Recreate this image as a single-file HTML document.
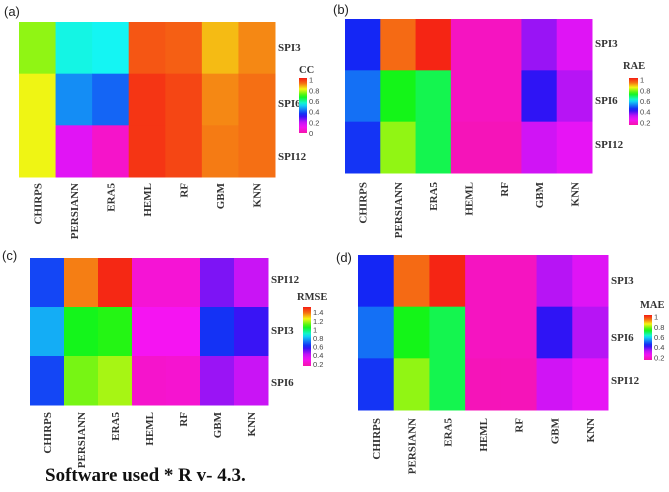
<!DOCTYPE html>
<html><head><meta charset="utf-8"><style>
html,body{margin:0;padding:0;background:#fff;width:669px;height:492px;overflow:hidden}
svg{display:block}
.pl{font-family:"Liberation Sans",sans-serif;font-size:13px;fill:#222}
.rl{font-family:"Liberation Serif",serif;font-weight:bold;font-size:11px;fill:#333}
.cl{font-family:"Liberation Serif",serif;font-weight:bold;font-size:11px;fill:#333}
.tk{font-family:"Liberation Sans",sans-serif;font-size:7.5px;fill:#444}
.lt{font-family:"Liberation Serif",serif;font-weight:bold;font-size:10.5px;fill:#333}
</style></head><body>
<svg id="fig" width="669" height="492" viewBox="0 0 669 492">
<text x="4" y="16" class="pl">(a)</text>
<text x="333" y="14" class="pl">(b)</text>
<text x="2" y="260" class="pl">(c)</text>
<text x="336" y="262" class="pl">(d)</text>
<text x="45" y="481" style="font-family:'Liberation Serif',serif;font-weight:bold;font-size:19px;fill:#111">Software used * R v- 4.3.</text>
</svg>
<script>
const models = ["CHIRPS","PERSIANN","ERA5","HEML","RF","GBM","KNN"];
const rowsA = ["SPI3","SPI6","SPI12"];
const rowsB = ["SPI3","SPI6","SPI12"];
const rowsC = ["SPI12","SPI3","SPI6"];
const rowsD = ["SPI3","SPI6","SPI12"];
const valuesA = [[0.76,0.55,0.54,0.96,0.95,0.87,0.91],[0.82,0.45,0.41,1.0,0.98,0.91,0.93],[0.82,0.15,0.05,1.0,0.98,0.92,0.93]];
const valuesB = [[0.45,0.95,1.02,0.18,0.18,0.35,0.28],[0.51,0.73,0.7,0.18,0.18,0.42,0.33],[0.46,0.8,0.7,0.17,0.17,0.3,0.27]];
const valuesC = [[0.655,1.37,1.5,0.24,0.24,0.49,0.4],[0.79,1.05,1.07,0.3,0.3,0.63,0.56],[0.655,1.14,1.18,0.22,0.23,0.46,0.4]];
const valuesD = [[0.45,0.95,1.02,0.18,0.18,0.33,0.28],[0.51,0.73,0.7,0.18,0.18,0.42,0.33],[0.46,0.8,0.7,0.17,0.17,0.3,0.27]];
const ticksA = [0,0.2,0.4,0.6,0.8,1];
const ticksB = [0.2,0.4,0.6,0.8,1];
const ticksC = [0.2,0.4,0.6,0.8,1,1.2,1.4];
const ticksD = [0.2,0.4,0.6,0.8,1];

const NS="http://www.w3.org/2000/svg";
const svg=document.getElementById('fig');
function mk(tag,attrs,parent){const e=document.createElementNS(NS,tag);for(const k in attrs)e.setAttribute(k,attrs[k]);(parent||svg).appendChild(e);return e;}
const hs=[[0,320],[0.2,285],[0.35,232],[0.5,190],[0.65,125],[0.8,60],[0.9,25],[1,2]];
function col(t){t=Math.max(0,Math.min(1,t));let h=hs[hs.length-1][1];
 for(let i=0;i<hs.length-1;i++){if(t>=hs[i][0]&&t<=hs[i+1][0]){const f=(t-hs[i][0])/(hs[i+1][0]-hs[i][0]);h=hs[i][1]+f*(hs[i+1][1]-hs[i][1]);break;}}
 return "hsl("+h.toFixed(1)+",92%,52%)";}
let gid=0;
function panel(p){
 const g=mk('g',{});
 
 
 const cw=(p.x1-p.x0)/models.length, ch=(p.y1-p.y0)/p.rows.length;
 const tt=v=>(v-p.dmin)/(p.dmax-p.dmin);
 p.vals.forEach((row,ri)=>row.forEach((v,ci)=>{
  const r=mk('rect',{x:(p.x0+ci*cw).toFixed(2),y:(p.y0+ri*ch).toFixed(2),width:(cw+0.5).toFixed(2),height:(ch+0.5).toFixed(2),fill:col(tt(v))},g);
  
  
 }));
 p.rows.forEach((n,ri)=>{const t=mk('text',{x:p.x1+3,y:p.ry[ri],class:'rl'},g);t.textContent=n;
  
  });
 models.forEach((n,ci)=>{const cx=p.x0+(ci+0.5)*cw+4, cy=p.ly;
  const t=mk('text',{x:cx,y:cy,class:'cl','text-anchor':'end',transform:'rotate(-90 '+cx+' '+cy+')'},g);t.textContent=n;
  
  });
 const id='gr'+(gid++);
 const lg=mk('linearGradient',{id:id,x1:0,y1:1,x2:0,y2:0},g);
 for(let i=0;i<=20;i++){const t=i/20;mk('stop',{offset:t,'stop-color':col(t)},lg);}
 const bar=mk('rect',{x:p.bx,y:p.by0,width:p.bw,height:p.by1-p.by0,fill:'url(#'+id+')'},g);
 
 
 const lt=mk('text',{x:p.tx,y:p.ty,class:'lt'},g);lt.textContent=p.title;
 
 
 p.ticks.forEach(v=>{const y=p.by1-tt(v)*(p.by1-p.by0);
  const t=mk('text',{x:p.bx+p.bw+2,y:y+3,class:'tk'},g);t.textContent=String(v);
  
  });
}
panel({name:'heatmap-cc',rows:rowsA,vals:valuesA,ticks:ticksA,dmin:0,dmax:1.03,x0:19,x1:275,y0:22,y1:177,ry:[51,107,160],ly:183,bx:299,bw:8,by0:78,by1:133,tx:299,ty:73,title:'CC'});
panel({name:'heatmap-rae',rows:rowsB,vals:valuesB,ticks:ticksB,dmin:0.15,dmax:1.03,x0:345,x1:592,y0:19,y1:173,ry:[47,104,148],ly:182,bx:629,bw:9,by0:78,by1:125,tx:623,ty:69,title:'RAE'});
panel({name:'heatmap-rmse',rows:rowsC,vals:valuesC,ticks:ticksC,dmin:0.15,dmax:1.52,x0:30,x1:268,y0:258,y1:405,ry:[283,334,386],ly:412,bx:303,bw:8,by0:307,by1:366,tx:297,ty:300,title:'RMSE'});
panel({name:'heatmap-mae',rows:rowsD,vals:valuesD,ticks:ticksD,dmin:0.15,dmax:1.03,x0:358,x1:608,y0:255,y1:410,ry:[284,341,384],ly:418,bx:644,bw:8,by0:315,by1:360,tx:640,ty:308,title:'MAE'});
</script>
</body></html>
